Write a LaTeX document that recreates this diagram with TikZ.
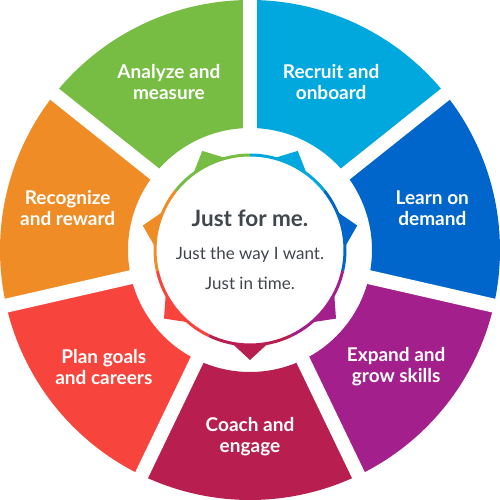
\documentclass[tikz,border=0pt]{standalone}
\usepackage{fontspec}
\setmainfont{Lato}
\definecolor{cgreen}{HTML}{77BC43}
\definecolor{ccyan}{HTML}{00A8DE}
\definecolor{cblue}{HTML}{0066CC}
\definecolor{cpurple}{HTML}{A3208C}
\definecolor{ccrimson}{HTML}{B81F50}
\definecolor{cred}{HTML}{F7443C}
\definecolor{corange}{HTML}{F08C25}
\definecolor{ctext}{HTML}{41464D}
\begin{document}
\begin{tikzpicture}[x=1pt,y=1pt,
  lbl/.style={text=white, font=\fontsize{19}{21}\selectfont\bfseries, align=center, inner sep=0pt},
  gapline/.style={white, line width=14pt},
  ctr/.style={text=ctext, inner sep=0pt, anchor=base}]
\useasboundingbox (-250,-250) rectangle (250,250);
\def\sw{51.4286}
\foreach \i/\b/\c/\t in {1/90/ccyan/{Recruit and\\onboard},
                          2/38.5714/cblue/{Learn on\\demand},
                          3/-12.8571/cpurple/{Expand and\\grow skills},
                          4/-64.2857/ccrimson/{Coach and\\engage},
                          5/-115.7143/cred/{Plan goals\\and careers},
                          6/-167.1429/corange/{Recognize\\and reward},
                          7/141.4286/cgreen/{Analyze and\\measure}}{
  \pgfmathsetmacro{\e}{\b-\sw}
  \pgfmathsetmacro{\m}{\b-\sw/2}
  \fill[\c] (\b:122) -- (\b:250) arc[start angle=\b, end angle=\e, radius=250]
     -- (\e:122) arc[start angle=\e, end angle=\b, radius=122] -- cycle;
  \fill[\c] (\m+11:95) -- (\m:110) -- (\m-11:95) -- cycle;
  \node[lbl] (seg\i) at (\m:187) {\t};
}
\foreach \b in {90,38.5714,-12.8571,-64.2857,-115.7143,-167.1429,141.4286}{
  \draw[gapline] (\b:112) -- (\b:260);
}
\fill[white] (0,0) circle[radius=95];
\foreach \b/\c in {90/ccyan,38.5714/cblue,-12.8571/cpurple,-64.2857/ccrimson,-115.7143/cred,-167.1429/corange,141.4286/cgreen}{
  \draw[\c, line width=3pt] (\b:95) arc[start angle=\b, end angle=\b-\sw, radius=95];
}
\node[ctr, font=\fontsize{22.5}{26}\selectfont\bfseries] (c1) at (0,23) {Just for me.};
\node[ctr, font=\fontsize{17}{20}\selectfont] (c2) at (0,-10) {Just the way I want.};
\node[ctr, font=\fontsize{17}{20}\selectfont] (c3) at (0,-40) {Just in time.};
\end{tikzpicture}
\end{document}
